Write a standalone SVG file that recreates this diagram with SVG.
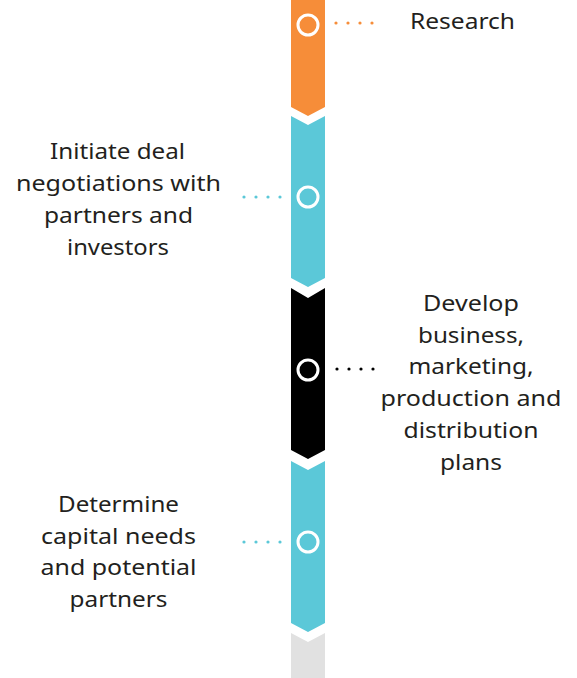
<svg xmlns="http://www.w3.org/2000/svg" width="577" height="678" viewBox="0 0 577 678">
<style>
.lbl{font-family:"Noto Sans","Liberation Sans",sans-serif;font-size:22.5px;fill:#231f20;text-anchor:middle}
.ring{fill:none;stroke:#fff;stroke-width:3}
</style>
<rect width="577" height="678" fill="#fff"/>
<g id="segments">
<polygon id="seg-grey" fill="#e1e1e1" points="291,633 308,642 325,633 325,678 291,678"/>
<polygon id="seg-orange" fill="#f68d39" points="291,0 325,0 325,107 308,116 291,107"/>
<polygon id="seg-teal1" fill="#5bc8d8" points="291,116 308,125 325,116 325,278 308,287 291,278"/>
<polygon id="seg-black" fill="#000" points="291,288 308,298 325,288 325,450 308,459 291,450"/>
<polygon id="seg-teal2" fill="#5bc8d8" points="291,461 308,470 325,461 325,623 308,632 291,623"/>
</g>
<g id="connectors">
<g fill="#f68d39"><circle cx="336" cy="23" r="1.6"/><circle cx="348" cy="23" r="1.6"/><circle cx="360" cy="23" r="1.6"/><circle cx="372" cy="23" r="1.6"/></g>
<g fill="#5bc8d8"><circle cx="244" cy="197" r="1.6"/><circle cx="256" cy="197" r="1.6"/><circle cx="268" cy="197" r="1.6"/><circle cx="280" cy="197" r="1.6"/></g>
<g fill="#000"><circle cx="337" cy="369" r="1.6"/><circle cx="349" cy="369" r="1.6"/><circle cx="361" cy="369" r="1.6"/><circle cx="373" cy="369" r="1.6"/></g>
<g fill="#5bc8d8"><circle cx="244" cy="542" r="1.6"/><circle cx="256" cy="542" r="1.6"/><circle cx="268" cy="542" r="1.6"/><circle cx="280" cy="542" r="1.6"/></g>
</g>
<g id="node-research">
<circle class="ring" cx="308" cy="25" r="10"/>
<text class="lbl" x="462.5" y="29" textLength="105" lengthAdjust="spacingAndGlyphs">Research</text>
</g>
<g id="node-initiate">
<circle class="ring" cx="308" cy="197" r="10"/>
<text class="lbl" x="117.5" y="159" textLength="135" lengthAdjust="spacingAndGlyphs">Initiate deal</text>
<text class="lbl" x="118.5" y="191" textLength="205" lengthAdjust="spacingAndGlyphs">negotiations with</text>
<text class="lbl" x="118.5" y="223" textLength="149" lengthAdjust="spacingAndGlyphs">partners and</text>
<text class="lbl" x="118" y="255" textLength="102" lengthAdjust="spacingAndGlyphs">investors</text>
</g>
<g id="node-develop">
<circle class="ring" cx="308" cy="370" r="10"/>
<text class="lbl" x="471" y="311" textLength="96" lengthAdjust="spacingAndGlyphs">Develop</text>
<text class="lbl" x="471" y="343" textLength="106" lengthAdjust="spacingAndGlyphs">business,</text>
<text class="lbl" x="471" y="374" textLength="125" lengthAdjust="spacingAndGlyphs">marketing,</text>
<text class="lbl" x="471" y="406" textLength="181" lengthAdjust="spacingAndGlyphs">production and</text>
<text class="lbl" x="471" y="438" textLength="135" lengthAdjust="spacingAndGlyphs">distribution</text>
<text class="lbl" x="471" y="470" textLength="62" lengthAdjust="spacingAndGlyphs">plans</text>
</g>
<g id="node-determine">
<circle class="ring" cx="308" cy="542" r="10"/>
<text class="lbl" x="118.5" y="512" textLength="121" lengthAdjust="spacingAndGlyphs">Determine</text>
<text class="lbl" x="118.5" y="544" textLength="155" lengthAdjust="spacingAndGlyphs">capital needs</text>
<text class="lbl" x="118.5" y="575" textLength="156" lengthAdjust="spacingAndGlyphs">and potential</text>
<text class="lbl" x="118.5" y="607" textLength="98" lengthAdjust="spacingAndGlyphs">partners</text>
</g>
</svg>
